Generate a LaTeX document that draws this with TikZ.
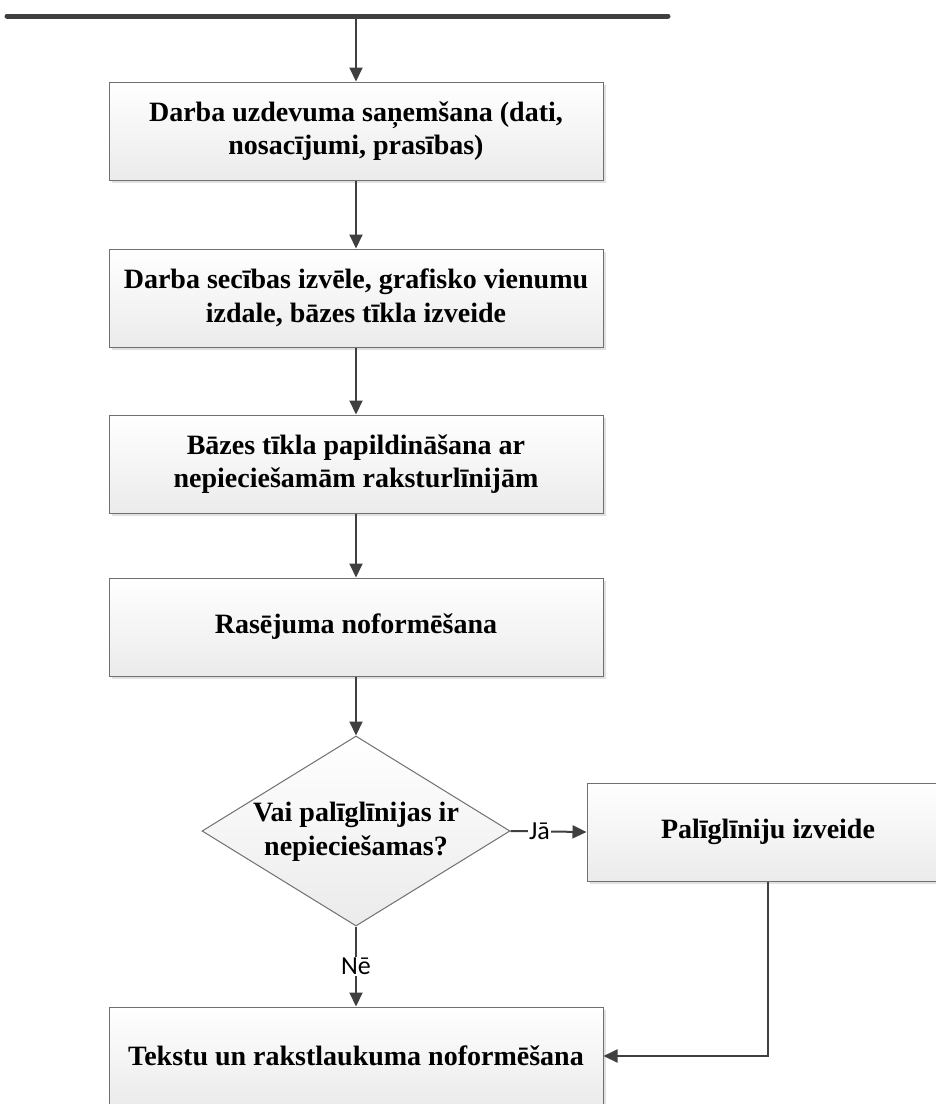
\documentclass[tikz,border=0pt]{standalone}
\usepackage{fontspec}
\setmainfont{Liberation Serif}
\newfontfamily\lblfont{Carlito}
\usetikzlibrary{arrows.meta,shapes.geometric,shadows}
\definecolor{linecol}{HTML}{404040}
\definecolor{boxline}{HTML}{707070}
\definecolor{boxfill}{HTML}{EBEBEB}
\tikzset{
  box/.style={draw=boxline, line width=1pt, top color=white, bottom color=boxfill,
    minimum width=494pt, minimum height=98pt, inner sep=0pt, align=center,
    font=\bfseries\fontsize{28}{33.5}\selectfont,
    drop shadow={shadow xshift=3pt, shadow yshift=-3pt, fill=black, opacity=0.12}},
  dia/.style={shape=diamond, draw=boxline, line width=1pt, top color=white, bottom color=boxfill,
    minimum width=308pt, minimum height=190pt, inner sep=0pt},
  dtext/.style={align=center, font=\bfseries\fontsize{28}{33.5}\selectfont, inner sep=0pt},
  conn/.style={draw=linecol, line width=2pt, -{Triangle[length=14pt,width=13pt]}},
  lbl/.style={font=\lblfont\fontsize{26}{28}\selectfont, text=black, fill=white, inner sep=1pt},
}
\begin{document}
\begin{tikzpicture}[x=1pt,y=-1pt]
\clip (0,0) rectangle (936,1104);
\fill[white] (0,0) rectangle (936,1104);
% top bar
\coordinate (barL) at (7,16);
\coordinate (barR) at (668,16);
\coordinate (barM) at (356,16);
\draw[draw=linecol, line width=5pt, line cap=round] (barL) -- (barR);
% boxes
\node[box] (b1) at (356,131) {Darba uzdevuma saņemšana (dati,\\ nosacījumi, prasības)};
\node[box] (b2) at (356,298) {Darba secības izvēle, grafisko vienumu\\ izdale, bāzes tīkla izveide};
\node[box] (b3) at (356,464) {Bāzes tīkla papildināšana ar\\ nepieciešamām raksturlīnijām};
\node[box] (b4) at (356,627) {Rasējuma noformēšana};
\node[dia] (d) at (356,831) {};
\node[dtext] (dt) at (356,832) {Vai palīglīnijas ir\\ nepieciešamas?};
\node[box, minimum width=362pt] (p) at (768,832) {Palīglīniju izveide};
\node[box] (b5) at (356,1056) {Tekstu un rakstlaukuma noformēšana};
% connectors
\draw[conn] (barM) -- (b1.north);
\draw[conn] (b1.south) -- (b2.north);
\draw[conn] (b2.south) -- (b3.north);
\draw[conn] (b3.south) -- (b4.north);
\draw[conn] (b4.south) -- (d.north);
\draw[conn] (d.east) -- node[lbl, pos=0.38] (ja) {Jā} (p.west);
\draw[conn] (d.south) -- node[lbl, pos=0.5] (ne) {Nē} (b5.north);
\draw[conn] (p.south) |- (b5.east);
\end{tikzpicture}
\end{document}
